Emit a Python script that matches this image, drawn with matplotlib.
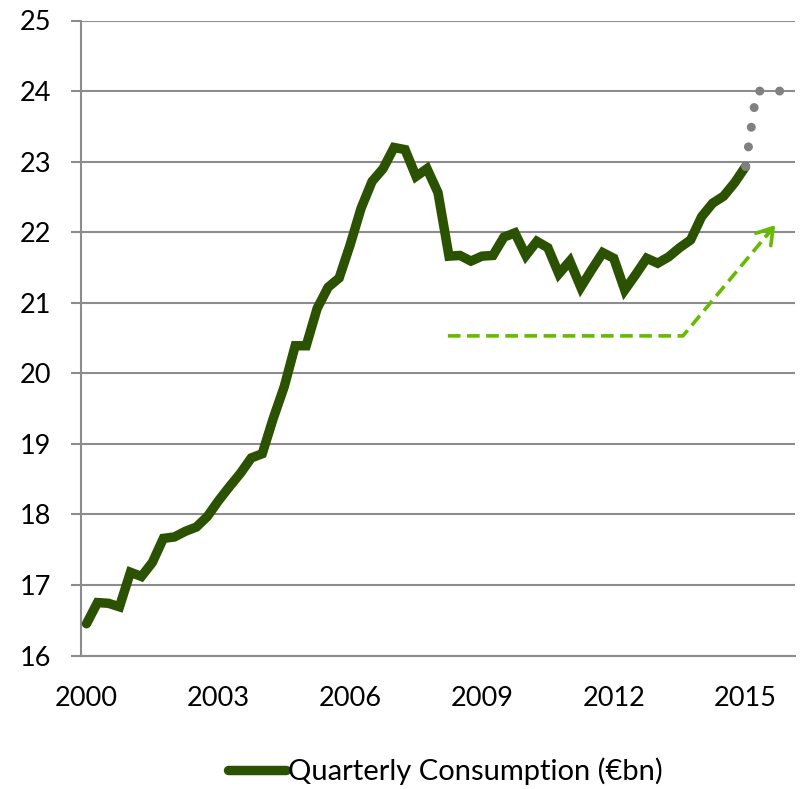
import matplotlib
matplotlib.use("Agg")
import matplotlib.pyplot as plt
from matplotlib.patches import FancyArrowPatch
import numpy as np

plt.rcParams['font.family'] = ['Lato', 'DejaVu Sans']

# Quarterly consumption (EUR bn), 2000Q1 .. 2015Q1
consumption = [16.45, 16.75, 16.74, 16.69, 17.18, 17.12, 17.32, 17.66,
               17.68, 17.76, 17.82, 17.97, 18.19, 18.39, 18.58, 18.80,
               18.86, 19.36, 19.81, 20.39, 20.39, 20.92, 21.22, 21.35,
               21.82, 22.34, 22.72, 22.90, 23.20, 23.17, 22.79, 22.90,
               22.56, 21.66, 21.67, 21.59, 21.66, 21.67, 21.93, 21.99,
               21.67, 21.87, 21.78, 21.41, 21.59, 21.22, 21.47, 21.71,
               21.63, 21.18, 21.40, 21.63, 21.56, 21.65, 21.78, 21.89,
               22.22, 22.41, 22.51, 22.70, 22.93]
# Projection (grey dotted), category indices
proj_idx = [60, 61, 62, 63, 64]
proj_vals = [22.93, 24.0, 24.0, 24.0, 24.0]
n_categories = 65  # 2000Q1 .. 2016Q1
tick_years = [2000, 2003, 2006, 2009, 2012, 2015]
# Green dashed trend arrow (category index, value)
trend_x = [32.9, 54.3, 62.7]
trend_y = [20.53, 20.53, 22.1]

main_color = '#2B5200'
grid_color = '#8C8C8C'
arrow_color = '#66BB00'

fig = plt.figure(figsize=(8.02, 7.89), dpi=100)
ax = fig.add_axes([81/802, 1-655.5/789, (795-81)/802, (655.5-20.5)/789])

x = np.arange(len(consumption))
ax.plot(x, consumption, color=main_color, lw=6.8, solid_joinstyle='miter',
        solid_capstyle='round', zorder=3, label='Quarterly Consumption (€bn)')
ax.plot(proj_idx, proj_vals, color='#808080', lw=6.5,
        linestyle=(0, (0.001, 2.2)), dash_capstyle='round', zorder=4)

# trend arrow
slope = (trend_y[2] - trend_y[1]) / (trend_x[2] - trend_x[1])
ax.plot(trend_x[:2] + [trend_x[2] - 0.5], trend_y[:2] + [trend_y[2] - 0.5 * slope],
        color=arrow_color, lw=2.6, linestyle=(0, (3.5, 1.8)), zorder=2)
arr = FancyArrowPatch((trend_x[1] + 0.9 * (trend_x[2] - trend_x[1]), trend_y[1] + 0.9 * (trend_y[2] - trend_y[1])),
                      (trend_x[2], trend_y[2]),
                      arrowstyle='->,head_length=11,head_width=7', mutation_scale=1,
                      color=arrow_color, lw=2.6, zorder=2, shrinkA=0, shrinkB=0)
ax.add_patch(arr)

ax.set_xlim(-0.5, n_categories - 0.5)
ax.set_ylim(16, 25)
ax.set_yticks(range(16, 26))
ax.set_xticks([(y - 2000) * 4 for y in tick_years])
ax.set_xticklabels([str(y) for y in tick_years])
ax.grid(axis='y', color=grid_color, lw=1.5)
ax.set_axisbelow(True)
for s in ['top', 'right']:
    ax.spines[s].set_visible(False)
for s in ['left', 'bottom']:
    ax.spines[s].set_color(grid_color)
    ax.spines[s].set_linewidth(1.5)
ax.tick_params(axis='y', length=7.5, width=1.5, color=grid_color, pad=14, labelsize=19.5)
ax.tick_params(axis='x', length=0, pad=22, labelsize=19.5)

fig.legend(loc='center', bbox_to_anchor=(0.555, 0.0228), frameon=False,
           fontsize=21, handlelength=2.0, handletextpad=0.05)

fig.savefig('out.png', dpi=100)
